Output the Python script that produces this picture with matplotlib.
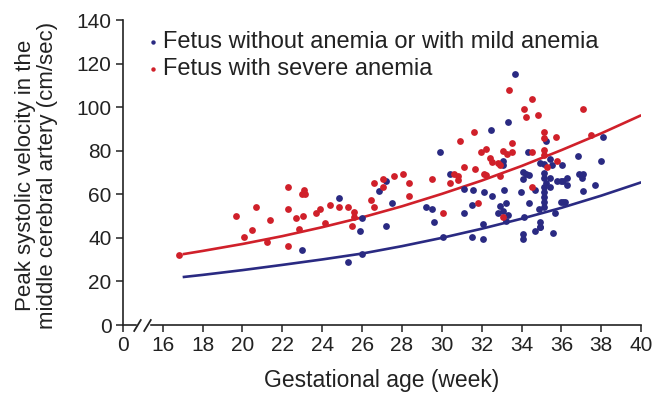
import numpy as np
import matplotlib
matplotlib.use('Agg')
import matplotlib.pyplot as plt

plt.rcParams['font.family'] = ['Liberation Sans', 'DejaVu Sans']

## MCA-PSV scatter data (gestational age in weeks, cm/sec)
mild_ga = [23.0, 25.3, 24.86, 26.0, 25.9, 26.0, 26.86, 27.2, 27.18, 27.5,
           29.2, 29.5, 29.6, 29.93, 30.07, 30.4, 31.1, 31.1, 32.47, 33.65,
           33.33, 34.3, 33.06, 33.06, 34.9, 34.07, 34.2, 34.36, 34.07, 34.66,
           33.97, 31.55, 32.1, 32.5, 33.13, 31.5, 33.2, 32.9, 34.37, 32.8,
           33.06, 33.33, 33.2, 32.05, 31.5, 32.05, 34.07, 34.07, 34.66, 34.9,
           34.1, 35.2, 38.07, 35.4, 35.1, 35.5, 36.05, 36.85, 37.97, 35.1,
           35.1, 35.2, 35.1, 35.4, 35.8, 36.0, 36.1, 36.3, 36.9, 37.1,
           37.05, 36.3, 37.7, 35.1, 35.1, 35.1, 35.4, 36.0, 36.1, 36.2,
           37.1, 34.86, 35.1, 35.67, 34.94, 34.94, 35.55]
mild_psv = [34.6, 29.0, 58.4, 49.1, 43.3, 32.6, 61.4, 66.2, 45.3, 56.0,
            54.4, 53.1, 47.1, 79.4, 40.2, 69.2, 62.3, 51.5, 89.5, 115.2,
            93.2, 79.5, 75.3, 73.3, 74.5, 70.4, 69.3, 69.0, 67.2, 62.0,
            61.2, 62.1, 61.2, 59.3, 62.1, 55.2, 56.1, 54.6, 56.1, 51.3,
            52.4, 50.5, 47.9, 46.4, 40.4, 39.3, 41.6, 39.3, 43.3, 45.1,
            49.4, 84.6, 86.5, 76.4, 73.7, 73.4, 73.4, 77.7, 75.3, 69.6,
            67.3, 65.0, 63.5, 67.3, 66.2, 66.2, 66.2, 67.3, 69.3, 69.3,
            67.3, 64.3, 64.3, 61.2, 58.9, 56.6, 63.5, 56.6, 56.6, 56.6,
            61.5, 53.1, 54.0, 51.5, 47.4, 45.1, 42.1]

severe_ga = [16.8, 19.67, 20.1, 20.5, 20.7, 21.25, 21.4, 22.3, 22.3, 22.3,
             22.7, 22.85, 23.06, 23.1, 23.0, 23.15, 23.7, 23.9, 24.15, 24.4,
             24.86, 25.3, 25.6, 25.6, 25.5, 26.45, 26.6, 26.6, 27.04, 27.06,
             27.6, 28.05, 28.35, 28.34, 29.5, 30.07, 30.4, 30.6, 30.8, 30.8,
             30.93, 31.1, 31.65, 31.6, 33.36, 34.5, 34.1, 34.24, 34.8, 33.5,
             32.2, 31.97, 33.06, 33.25, 33.5, 34.5, 32.4, 32.5, 32.8, 32.9,
             32.1, 32.2, 32.9, 34.5, 31.8, 33.06, 35.1, 35.1, 35.7, 37.5,
             35.1, 35.1, 35.25, 35.8, 37.1]
severe_psv = [32.3, 50.2, 40.4, 43.4, 54.3, 38.2, 48.2, 63.3, 53.2, 36.4,
              49.1, 44.2, 50.0, 62.0, 60.3, 60.1, 51.3, 53.4, 47.0, 55.1,
              54.2, 54.3, 51.7, 49.4, 45.4, 57.4, 54.2, 65.3, 67.2, 63.3,
              68.2, 69.2, 65.3, 59.2, 67.2, 51.4, 65.3, 69.3, 68.4, 66.5,
              84.6, 72.4, 71.5, 88.6, 107.8, 103.7, 99.0, 95.3, 96.4, 83.7,
              80.6, 79.4, 80.0, 78.5, 79.5, 79.5, 76.6, 75.0, 74.5, 73.3,
              69.3, 69.0, 68.4, 63.5, 56.1, 49.4, 88.7, 85.7, 86.5, 87.3,
              80.3, 78.0, 72.4, 75.4, 99.0]

## reference curves: median and 1.5 MoM
curve_ga = [17, 18, 20, 22, 24, 26, 28, 30, 32, 34, 36, 38, 40]
median_psv = [22.0, 23.0, 25.2, 27.6, 30.1, 32.8, 36.2, 40.0, 44.2, 48.8, 53.8, 59.4, 65.5]
mom15_psv = [32.5, 34.0, 37.2, 40.8, 44.9, 49.4, 54.5, 60.2, 66.3, 73.0, 80.3, 88.0, 96.3]

xticks = [14] + list(range(16, 41, 2))
xticklabels = ['0'] + [str(v) for v in range(16, 41, 2)]

blue = '#2a2a82'
red = '#d0202a'
ink = '#222222'

fig = plt.figure(figsize=(6.57, 3.93), dpi=100)
ax = fig.add_axes([0.187, 0.173, 0.789, 0.776])

ax.plot(curve_ga, median_psv, color=blue, linewidth=1.9, solid_capstyle='butt', zorder=2)
ax.plot(curve_ga, mom15_psv, color=red, linewidth=1.9, solid_capstyle='butt', zorder=2)
ax.scatter(mild_ga, mild_psv, s=24, color=blue, linewidths=0, zorder=3,
           label='Fetus without anemia or with mild anemia')
ax.scatter(severe_ga, severe_psv, s=24, color=red, linewidths=0, zorder=3,
           label='Fetus with severe anemia')

ax.set_xlim(14, 40)
ax.set_ylim(0, 140)
ax.set_xticks(xticks)
ax.set_xticklabels(xticklabels)
ax.set_yticks(range(0, 141, 20))
ax.tick_params(labelsize=15, direction='out', length=5, width=1.1, colors=ink, pad=3)
for side in ['top', 'right']:
    ax.spines[side].set_visible(False)
for side in ['left', 'bottom']:
    ax.spines[side].set_linewidth(1.2)
    ax.spines[side].set_color(ink)

# axis break marks between 0 and 16
brk = [(-0.6, -1), (0.6, 1)]
ax.plot([14.75, 15.25], [0, 0], color='white', linewidth=2.5, clip_on=False, zorder=4)
ax.plot([14.72, 15.22], [0, 0], linestyle='none', marker=brk, markersize=9,
        mew=1.3, color=ink, clip_on=False, zorder=5)

ax.set_xlabel('Gestational age (week)', fontsize=16.5, color=ink)
ax.xaxis.set_label_coords(0.5, -0.145)
ax.set_ylabel('Peak systolic velocity in the\nmiddle cerebral artery (cm/sec)',
              fontsize=16, color=ink, linespacing=1.05)
ax.yaxis.set_label_coords(-0.125, 0.49)

leg = ax.legend(loc='upper left', bbox_to_anchor=(0.017, 1.017), frameon=False,
                fontsize=17, markerscale=0.65, handlelength=0.4,
                handletextpad=0.24, labelspacing=0.2, borderpad=0.2)
for t in leg.get_texts():
    t.set_color(ink)

plt.savefig('out.png', format='png')
